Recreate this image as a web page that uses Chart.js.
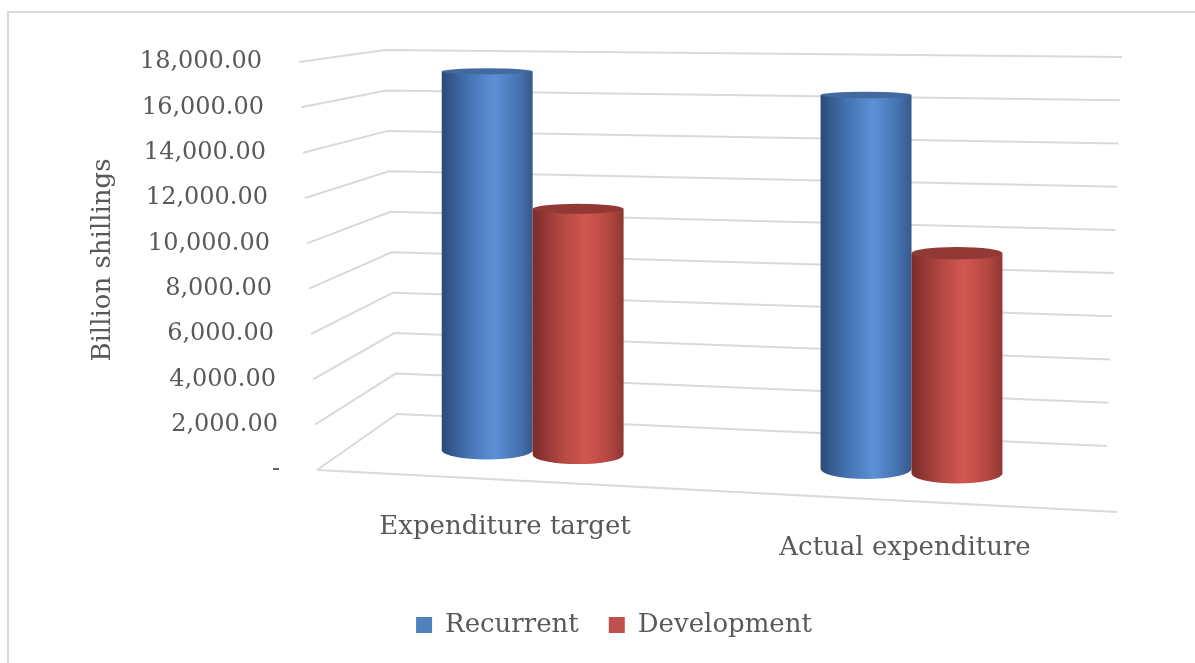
<!DOCTYPE html>
<html>
<head>
<title>Expenditure target and actual expenditure</title>
<style>
  html, body { margin: 0; padding: 0; background: #fff; }
  #wrap { width: 1195px; height: 663px; position: relative; }
</style>
</head>
<body>
<div id="wrap"><canvas id="spendChart"></canvas></div>
<script src="https://cdn.jsdelivr.net/npm/chart.js@4.4.1/dist/chart.umd.min.js"></script>
<script>
// values in billion shillings
const categories = ['Expenditure target', 'Actual expenditure'];
const seriesNames = ['Recurrent', 'Development'];
const recurrent = [17400, 16600];
const development = [11200, 9700];
const yMax = 18000;
const yStep = 2000;
const yTitle = 'Billion shillings';

const TEXT = '#595959';
const GRID = '#d9d9d9';
const FONT = 'DejaVu Serif';

// cylinder shading, left edge -> highlight -> right edge
const looks = [
  { legend: '#4f81bd', top: '#436a9f',
    stops: [[0, '#2b4b78'], [0.3, '#4674b3'], [0.58, '#5c90d6'], [0.85, '#4673b0'], [1, '#36598b']] },
  { legend: '#c0504d', top: '#923935',
    stops: [[0, '#7a2c2a'], [0.3, '#b04641'], [0.58, '#d25851'], [0.85, '#b2463f'], [1, '#8f3733']] }
];

// corners of the 3d box, offset from the chart area
// f/b = front/back, l/r = left/right, b/t = bottom/top
function boxCorners(a) {
  const L = a.left, R = a.right, T = a.top, B = a.bottom;
  return {
    flb: [L, B],       flt: [L - 18, T],
    blb: [L + 80, B - 56], blt: [L + 68, T - 12],
    frb: [R, B + 42],   frt: [R + 10, T + 14],
    brb: [R - 10, B - 24], brt: [R + 5, T - 5]
  };
}

function lerp(p, q, t) {
  return [p[0] + (q[0] - p[0]) * t, p[1] + (q[1] - p[1]) * t];
}

// u across, v up, w into the page; all 0..1
function project(c, u, v, w) {
  const fb = lerp(c.flb, c.frb, u), ft = lerp(c.flt, c.frt, u);
  const bb = lerp(c.blb, c.brb, u), bt = lerp(c.blt, c.brt, u);
  return lerp(lerp(fb, ft, v), lerp(bb, bt, v), w);
}

const U_SHIFT = 0.015;
const DEPTH = 0.47;   // where the cylinders stand between front and back
const R_DEPTH = 0.16; // cylinder radius along the depth

function valueFrac(chart, px) {
  const y = chart.scales.y;
  return (y.bottom - px) / (y.bottom - y.top);
}

// upright cylinder: x taken from the floor, heights from the box
function cylinder(ctx, c, u, ru, v, look) {
  const cb = project(c, u, 0, DEPTH);
  const topY = project(c, u, v, DEPTH)[1];
  const rx = (project(c, u + ru, 0, DEPTH)[0] - project(c, u - ru, 0, DEPTH)[0]) / 2;
  const ryb = R_DEPTH * Math.abs(project(c, u, 0, 0)[1] - project(c, u, 0, 1)[1]);
  const ryt = R_DEPTH * Math.abs(project(c, u, v, 0)[1] - project(c, u, v, 1)[1]);

  const g = ctx.createLinearGradient(cb[0] - rx, 0, cb[0] + rx, 0);
  look.stops.forEach(s => g.addColorStop(s[0], s[1]));
  ctx.beginPath();
  ctx.moveTo(cb[0] - rx, topY);
  ctx.lineTo(cb[0] - rx, cb[1]);
  ctx.ellipse(cb[0], cb[1], rx, ryb, 0, Math.PI, 0, true);
  ctx.lineTo(cb[0] + rx, topY);
  ctx.closePath();
  ctx.fillStyle = g;
  ctx.fill();

  ctx.beginPath();
  ctx.ellipse(cb[0], topY, rx, Math.max(ryt, 3), 0, 0, Math.PI * 2);
  ctx.fillStyle = look.top;
  ctx.fill();
}

const cylinders = {
  id: 'cylinders',
  beforeDraw(chart) {
    const ctx = chart.ctx;
    ctx.save();
    ctx.fillStyle = '#fff';
    ctx.fillRect(0, 0, chart.width, chart.height);
    ctx.strokeStyle = GRID;
    ctx.lineWidth = 2;
    ctx.strokeRect(8, 12, chart.width + 20, chart.height + 20);
    ctx.restore();
  },
  beforeDatasetsDraw(chart) {
    const ctx = chart.ctx, a = chart.chartArea, c = boxCorners(a);
    ctx.save();
    // side wall and back wall gridlines
    ctx.strokeStyle = GRID;
    ctx.lineWidth = 2;
    chart.scales.y.ticks.forEach(t => {
      const v = valueFrac(chart, chart.scales.y.getPixelForValue(t.value));
      const p0 = project(c, 0, v, 0), p1 = project(c, 0, v, 1), p2 = project(c, 1, v, 1);
      ctx.beginPath();
      ctx.moveTo(p0[0], p0[1]);
      ctx.lineTo(p1[0], p1[1]);
      ctx.lineTo(p2[0], p2[1]);
      ctx.stroke();
    });
    const f0 = project(c, 0, 0, 0), f1 = project(c, 1, 0, 0);
    ctx.beginPath();
    ctx.moveTo(f0[0], f0[1]);
    ctx.lineTo(f1[0], f1[1]);
    ctx.stroke();

    // cylinders, category by category
    categories.forEach((_, j) => {
      chart.data.datasets.forEach((ds, i) => {
        const bar = chart.getDatasetMeta(i).data[j];
        const u = (bar.x - a.left) / a.width - U_SHIFT;
        const ru = bar.width / 2 / a.width;
        const v = valueFrac(chart, bar.y);
        cylinder(ctx, c, u, ru, v, looks[i]);
      });
    });
    ctx.restore();
    return false;
  },
  afterDraw(chart) {
    const ctx = chart.ctx, a = chart.chartArea, c = boxCorners(a);
    const y = chart.scales.y, x = chart.scales.x;
    ctx.save();
    ctx.fillStyle = TEXT;

    // value labels along the side wall
    ctx.font = '24px "' + FONT + '"';
    ctx.textAlign = 'right';
    ctx.textBaseline = 'middle';
    y.ticks.forEach(t => {
      const p = project(c, 0, valueFrac(chart, y.getPixelForValue(t.value)), 0);
      const txt = t.value === 0 ? '-' :
        t.value.toLocaleString('en-US', { minimumFractionDigits: 2, maximumFractionDigits: 2 });
      ctx.fillText(txt, p[0] - 37, p[1]);
    });

    // category names under the floor edge
    ctx.font = '26px "' + FONT + '"';
    ctx.textAlign = 'center';
    categories.forEach((name, j) => {
      const u = (x.getPixelForValue(j) - a.left) / a.width - U_SHIFT;
      const p = project(c, u, 0, 0);
      ctx.fillText(name, p[0], p[1] + 47);
    });

    // axis title
    ctx.translate(a.left - 214, (a.top + a.bottom) / 2 - 6);
    ctx.rotate(-Math.PI / 2);
    ctx.fillText(yTitle, 0, 0);
    ctx.restore();
  }
};

const ctx = document.getElementById('spendChart').getContext('2d');
new Chart(ctx, {
  type: 'bar',
  data: {
    labels: categories,
    datasets: [
      { label: seriesNames[0], data: recurrent, backgroundColor: looks[0].legend },
      { label: seriesNames[1], data: development, backgroundColor: looks[1].legend }
    ]
  },
  options: {
    responsive: true,
    maintainAspectRatio: false,
    animation: false,
    events: [],
    categoryPercentage: 0.48,
    barPercentage: 1,
    layout: { padding: { left: 111, right: 78, top: 62, bottom: 15 } },
    scales: {
      x: {
        ticks: { display: false },
        grid: { display: false },
        border: { display: false },
        afterFit: s => { s.height = 112; }
      },
      y: {
        min: 0,
        max: yMax,
        ticks: { display: false, stepSize: yStep },
        grid: { display: false },
        border: { display: false },
        afterFit: s => { s.width = 206; }
      }
    },
    plugins: {
      legend: {
        position: 'bottom',
        labels: {
          boxWidth: 16,
          boxHeight: 16,
          padding: 30,
          color: TEXT,
          font: { family: FONT, size: 26 }
        }
      },
      tooltip: { enabled: false }
    }
  },
  plugins: [cylinders]
});
</script>
</body>
</html>
